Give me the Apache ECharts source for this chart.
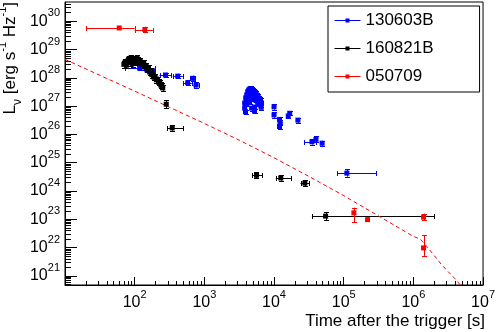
<!DOCTYPE html>
<html><head><meta charset="utf-8">
<script src="https://cdn.jsdelivr.net/npm/echarts@6/dist/echarts.min.js"></script>
<style>html,body{margin:0;padding:0;background:#fff}#c{width:498px;height:332px}</style>
</head><body><div id="c"></div>
<script>
// rows: [t (s), L (erg s^-1 Hz^-1), tLow, tHigh, LLow, LHigh]  (null = no error bar)
const grb130603B = [
  [118, 2.2e28, 72, 193, 1.9e28, 2.5e28],
  [150, 1.9e28, null, null, 1.6e28, 2.2e28],
  [185, 1.7e28, null, null, 1.45e28, 2.0e28],
  [277, 1.26e28, 228, 334, 1.05e28, 1.5e28],
  [415, 1.15e28, 352, 490, 9.5e27, 1.4e28],
  [577, 6.7e27, 500, 660, 5.5e27, 8.2e27],
  [680, 9.6e27, 620, 740, 7.8e27, 1.2e28],
  [760, 5.6e27, 700, 830, 4.5e27, 7.0e27],
  [3790, 1.29e27, null, null, 1.07e27, 1.55e27],
  [3790, 8.5e26, null, null, 7.0e26, 1.02e27],
  [3920, 1.95e27, null, null, 1.6e27, 2.35e27],
  [4050, 2.5e27, null, null, 2.1e27, 3.0e27],
  [4050, 1.2e27, null, null, 1.0e27, 1.45e27],
  [4180, 3.2e27, null, null, 2.7e27, 3.8e27],
  [4180, 1.65e27, null, null, 1.37e27, 2.0e27],
  [4320, 3.7e27, null, null, 3.1e27, 4.4e27],
  [4320, 2.1e27, null, null, 1.75e27, 2.5e27],
  [4470, 4.0e27, null, null, 3.3e27, 4.8e27],
  [4470, 2.5e27, null, null, 2.1e27, 3.0e27],
  [4470, 1.4e27, null, null, 1.16e27, 1.7e27],
  [4620, 4.2e27, null, null, 3.5e27, 5.0e27],
  [4620, 2.9e27, null, null, 2.4e27, 3.5e27],
  [4770, 4.0e27, null, null, 3.3e27, 4.8e27],
  [4770, 2.1e27, null, null, 1.75e27, 2.5e27],
  [4770, 8.5e26, null, null, 7.0e26, 1.02e27],
  [4930, 3.7e27, null, null, 3.1e27, 4.4e27],
  [4930, 2.7e27, null, null, 2.25e27, 3.25e27],
  [5100, 3.4e27, null, null, 2.8e27, 4.1e27],
  [5100, 1.8e27, null, null, 1.5e27, 2.15e27],
  [5270, 3.2e27, null, null, 2.7e27, 3.8e27],
  [5270, 2.3e27, null, null, 1.9e27, 2.75e27],
  [5270, 9.3e26, null, null, 7.7e26, 1.12e27],
  [5440, 2.9e27, null, null, 2.4e27, 3.5e27],
  [5440, 1.65e27, null, null, 1.37e27, 2.0e27],
  [5620, 2.5e27, null, null, 2.1e27, 3.0e27],
  [5620, 1.95e27, null, null, 1.6e27, 2.35e27],
  [5810, 2.3e27, null, null, 1.9e27, 2.75e27],
  [5810, 1.4e27, null, null, 1.16e27, 1.7e27],
  [6000, 1.95e27, null, null, 1.6e27, 2.35e27],
  [6000, 1.2e27, null, null, 1.0e27, 1.45e27],
  [6200, 1.8e27, null, null, 1.5e27, 2.15e27],
  [6200, 1.3e27, null, null, 1.08e27, 1.56e27],
  [6400, 1.65e27, null, null, 1.37e27, 2.0e27],
  [6400, 1.1e27, null, null, 9.1e26, 1.32e27],
  [6600, 1.3e27, null, null, 1.08e27, 1.56e27],
  [3900, 6.3e26, null, null, 5.2e26, 7.6e26],
  [5250, 6.7e26, null, null, 5.6e26, 8.0e26],
  [6550, 9.1e26, null, null, 7.6e26, 1.09e27],
  [1.0e4, 9.5e26, null, null, 7.5e26, 1.2e27],
  [1.0e4, 4.9e26, null, null, 3.9e26, 6.2e26],
  [1.2e4, 3.4e26, null, null, 2.8e26, 4.1e26],
  [1.2e4, 1.9e26, null, null, 1.5e26, 2.4e26],
  [1.22e4, 2.6e26, null, null, 2.1e26, 3.2e26],
  [1.6e4, 4.5e26, null, null, 3.8e26, 5.4e26],
  [1.68e4, 5.6e26, null, null, 4.7e26, 6.7e26],
  [2.2e4, 3.2e26, null, null, 2.6e26, 3.9e26],
  [3.5e4, 5.5e25, 2.7e4, 4.0e4, 4.4e25, 6.9e25],
  [4.0e4, 6.7e25, null, null, 5.3e25, 8.5e25],
  [4.9e4, 4.9e25, null, null, 4.0e25, 6.0e25],
  [1.11e5, 4.3e24, 8.0e4, 2.9e5, 3.2e24, 5.8e24]
];
const grb160821B = [
  [70, 3.0e28, null, null, 2.3e28, 3.8e28],
  [73, 3.6e28, null, null, 2.8e28, 4.5e28],
  [76, 2.8e28, null, null, 2.2e28, 3.5e28],
  [79, 3.9e28, null, null, 3.0e28, 4.9e28],
  [82, 4.6e28, null, null, 3.6e28, 5.8e28],
  [85, 3.4e28, null, null, 2.7e28, 4.3e28],
  [88, 5.0e28, null, null, 4.0e28, 6.3e28],
  [91, 4.0e28, null, null, 3.2e28, 5.0e28],
  [94, 3.2e28, null, null, 2.5e28, 4.0e28],
  [97, 3.8e28, null, null, 3.0e28, 4.8e28],
  [100, 4.8e28, null, null, 3.8e28, 6.0e28],
  [104, 3.5e28, null, null, 2.8e28, 4.4e28],
  [108, 4.9e28, null, null, 3.9e28, 6.2e28],
  [112, 4.2e28, null, null, 3.3e28, 5.3e28],
  [116, 3.3e28, null, null, 2.6e28, 4.2e28],
  [120, 4.0e28, null, null, 3.2e28, 5.0e28],
  [125, 3.2e28, null, null, 2.5e28, 4.0e28],
  [130, 2.9e28, null, null, 2.3e28, 3.7e28],
  [135, 3.3e28, null, null, 2.6e28, 4.2e28],
  [140, 2.4e28, null, null, 1.9e28, 3.0e28],
  [146, 2.6e28, null, null, 2.1e28, 3.3e28],
  [152, 2.0e28, null, null, 1.6e28, 2.5e28],
  [158, 2.2e28, null, null, 1.7e28, 2.8e28],
  [164, 1.6e28, null, null, 1.25e28, 2.0e28],
  [170, 1.7e28, null, null, 1.35e28, 2.15e28],
  [176, 1.3e28, null, null, 1.0e28, 1.65e28],
  [183, 1.4e28, null, null, 1.1e28, 1.8e28],
  [190, 1.05e28, null, null, 8.3e27, 1.33e28],
  [197, 1.1e28, null, null, 8.7e27, 1.4e28],
  [205, 8.5e27, null, null, 6.7e27, 1.07e28],
  [213, 8.8e27, null, null, 7.0e27, 1.1e28],
  [221, 7.0e27, null, null, 5.5e27, 8.9e27],
  [229, 6.8e27, null, null, 5.4e27, 8.6e27],
  [237, 5.6e27, null, null, 4.4e27, 7.1e27],
  [245, 5.2e27, null, null, 4.1e27, 6.6e27],
  [253, 4.4e27, null, null, 3.5e27, 5.6e27],
  [284, 1.17e27, null, null, 8.5e26, 1.6e27],
  [346, 1.7e26, 295, 500, 1.35e26, 2.15e26],
  [5.6e3, 3.6e24, 4.9e3, 6.8e3, 2.8e24, 4.6e24],
  [1.25e4, 2.9e24, 1.06e4, 1.75e4, 2.3e24, 3.7e24],
  [2.77e4, 1.9e24, 2.4e4, 3.2e4, 1.5e24, 2.4e24],
  [5.5e4, 1.3e23, 3.5e4, 2.0e6, 9.5e22, 1.8e23]
];
const grb050709 = [
  [60, 5.8e29, 20, 100, null, null],
  [140, 5.1e29, 100, 182, 4.1e29, 6.4e29],
  [1.4e5, 1.7e23, null, null, 7.8e22, 2.6e23],
  [2.2e5, 9.8e22, null, null, null, null],
  [1.4e6, 1.2e23, null, null, 9.4e22, 1.6e23],
  [1.4e6, 9.8e21, null, null, 5.1e21, 2.8e22]
];
const modelT = [1e1, 3.16e1, 1e2, 3.16e2, 1e3, 3.16e3, 1e4, 3.16e4, 1e5, 3.16e5, 1e6, 1.26e6, 1.58e6, 2.0e6, 2.51e6, 3.16e6, 3.98e6, 5.01e6, 6.31e6];
const modelL = [4.5e28, 1.23e28, 3.4e27, 9.1e26, 2.45e26, 6.3e25, 1.5e25, 3.3e24, 6.9e23, 1.32e23, 2.5e22, 2.0e22, 1.05e22, 5.2e21, 2.6e21, 1.41e21, 7.9e20, 4.0e20, 2.0e20];
const seriesNames = ['130603B', '160821B', '050709'];
const seriesColors = ['#0000ff', '#000000', '#ff0000'];
const xMajorExp = [1, 2, 3, 4, 5, 6, 7];
const xLabelExp = [2, 3, 4, 5, 6, 7];
const yMajorExp = [21, 22, 23, 24, 25, 26, 27, 28, 29, 30];
const xRange = [1, 7];
const yRange = [20.68, 30.68];

const lg = Math.log10;
function minors(lo, hi) {
  const out = [];
  for (let n = Math.floor(lo) - 1; n <= Math.ceil(hi); n++)
    for (let k = 2; k <= 9; k++) { const v = n + lg(k); if (v > lo && v < hi) out.push(v); }
  return out;
}
const FONT = 'Liberation Sans, Arial, Helvetica, sans-serif';
const tickRich = {
  b: { fontSize: 16, lineHeight: 27, fontFamily: FONT, color: '#000' },
  s: { fontSize: 11, lineHeight: 11, verticalAlign: 'top', fontFamily: FONT, color: '#000' }
};
const expFmt = v => '{b|10}{s|' + Math.round(v) + '}';

function pts(rows) { return rows.map(r => [lg(r[0]), lg(r[1])]); }
function errData(rows) {
  return rows.map(r => [lg(r[0]), lg(r[1]),
    lg(r[2] == null ? r[0] : r[2]), lg(r[3] == null ? r[0] : r[3]),
    lg(r[4] == null ? r[1] : r[4]), lg(r[5] == null ? r[1] : r[5])]);
}
function errSeries(rows, color) {
  return {
    type: 'custom', silent: true, animation: false, clip: true,
    encode: { x: [0, 2, 3], y: [1, 4, 5] },
    data: errData(rows),
    renderItem(params, api) {
      const x = api.value(0), y = api.value(1);
      const c = api.coord([x, y]);
      const st = { stroke: color, lineWidth: 1 };
      const ch = [];
      const cap = 2.5;
      const px = v => Math.round(v) + 0.5;
      if (api.value(2) !== api.value(3)) {
        const a = api.coord([api.value(2), y]), b = api.coord([api.value(3), y]);
        const yy = px(c[1]);
        ch.push({ type: 'line', shape: { x1: a[0], y1: yy, x2: b[0], y2: yy }, style: st });
        ch.push({ type: 'line', shape: { x1: px(a[0]), y1: yy - cap, x2: px(a[0]), y2: yy + cap }, style: st });
        ch.push({ type: 'line', shape: { x1: px(b[0]), y1: yy - cap, x2: px(b[0]), y2: yy + cap }, style: st });
      }
      if (api.value(4) !== api.value(5)) {
        const a = api.coord([x, api.value(4)]), b = api.coord([x, api.value(5)]);
        const xx = px(c[0]);
        ch.push({ type: 'line', shape: { x1: xx, y1: a[1], x2: xx, y2: b[1] }, style: st });
        ch.push({ type: 'line', shape: { x1: xx - cap, y1: px(a[1]), x2: xx + cap, y2: px(a[1]) }, style: st });
        ch.push({ type: 'line', shape: { x1: xx - cap, y1: px(b[1]), x2: xx + cap, y2: px(b[1]) }, style: st });
      }
      return { type: 'group', children: ch };
    }
  };
}
function ptSeries(name, rows, color) {
  return {
    type: 'line', name, data: pts(rows), symbol: 'rect', symbolSize: 5, showSymbol: true,
    lineStyle: { color, width: 1, opacity: 0 }, itemStyle: { color, borderWidth: 0 },
    silent: true, animation: false, clip: true, emphasis: { disabled: true }
  };
}

const chart = echarts.init(document.getElementById('c'), null, { renderer: 'canvas' });
const datasets = [grb130603B, grb160821B, grb050709];
const series = [{
  type: 'line', name: 'model', data: modelT.map((t, i) => [lg(t), lg(modelL[i])]),
  showSymbol: false, symbol: 'none', silent: true, animation: false, clip: true,
  lineStyle: { color: '#ff0000', width: 1, type: [4, 3] }
}];
datasets.forEach((rows, i) => {
  series.push(errSeries(rows, seriesColors[i]));
  series.push(ptSeries(seriesNames[i], rows, seriesColors[i]));
});

chart.setOption({
  animation: false,
  backgroundColor: '#fff',
  grid: { left: 65, right: 13, top: 2, bottom: 47, show: true, borderColor: '#000', borderWidth: 1, containLabel: false },
  xAxis: [
    { type: 'value', min: xRange[0], max: xRange[1], position: 'bottom',
      axisLine: { show: true, lineStyle: { color: '#000', width: 1 } }, splitLine: { show: false },
      axisTick: { show: true, inside: true, length: 8, customValues: xMajorExp, lineStyle: { color: '#000' } },
      axisLabel: { show: true, customValues: xLabelExp, formatter: expFmt, rich: tickRich, margin: 4, showMinLabel: true, showMaxLabel: true } },
    { type: 'value', min: xRange[0], max: xRange[1], position: 'bottom',
      axisLine: { show: false }, splitLine: { show: false },
      axisTick: { show: true, inside: true, length: 4, customValues: minors(xRange[0], xRange[1]), lineStyle: { color: '#000' } },
      axisLabel: { show: false } }
  ],
  yAxis: [
    { type: 'value', min: yRange[0], max: yRange[1], position: 'left',
      axisLine: { show: true, lineStyle: { color: '#000', width: 1 } }, splitLine: { show: false },
      axisTick: { show: true, inside: true, length: 12, customValues: yMajorExp, lineStyle: { color: '#000' } },
      axisLabel: { show: true, customValues: yMajorExp, formatter: expFmt, rich: tickRich, margin: 5 } },
    { type: 'value', min: yRange[0], max: yRange[1], position: 'left',
      axisLine: { show: false }, splitLine: { show: false },
      axisTick: { show: true, inside: true, length: 6, customValues: minors(yRange[0], yRange[1]), lineStyle: { color: '#000' } },
      axisLabel: { show: false } }
  ],
  legend: {
    data: seriesNames, orient: 'vertical', left: 328, top: 6,
    padding: [6, 46, 7, 6], itemGap: 11, itemWidth: 26, itemHeight: 5,
    textStyle: { fontSize: 17, fontFamily: FONT, color: '#000', lineHeight: 16 },
    borderColor: '#000', borderWidth: 1, borderRadius: 0, backgroundColor: '#fff',
    lineStyle: { width: 1, opacity: 1 }, selectedMode: false
  },
  graphic: [
    { type: 'text', x: 485, y: 321, silent: true,
      style: { text: 'Time after the trigger [s]', fontSize: 17, fontFamily: FONT, fill: '#000', align: 'right', verticalAlign: 'middle' } },
    { type: 'text', x: 10.5, y: 2, rotation: Math.PI / 2, silent: true,
      style: {
        text: '{n|L}{sub|ν}{n| [erg s}{sup|-1}{n| Hz}{sup|-1}{n|]}', align: 'right', verticalAlign: 'middle',
        rich: {
          n: { fontSize: 17, lineHeight: 27, fontFamily: FONT, fill: '#000' },
          sup: { fontSize: 11, lineHeight: 11, verticalAlign: 'top', fontFamily: FONT, fill: '#000' },
          sub: { fontSize: 12, lineHeight: 19, verticalAlign: 'bottom', fontFamily: FONT, fill: '#000' }
        }
      } }
  ],
  series
});
</script></body></html>
